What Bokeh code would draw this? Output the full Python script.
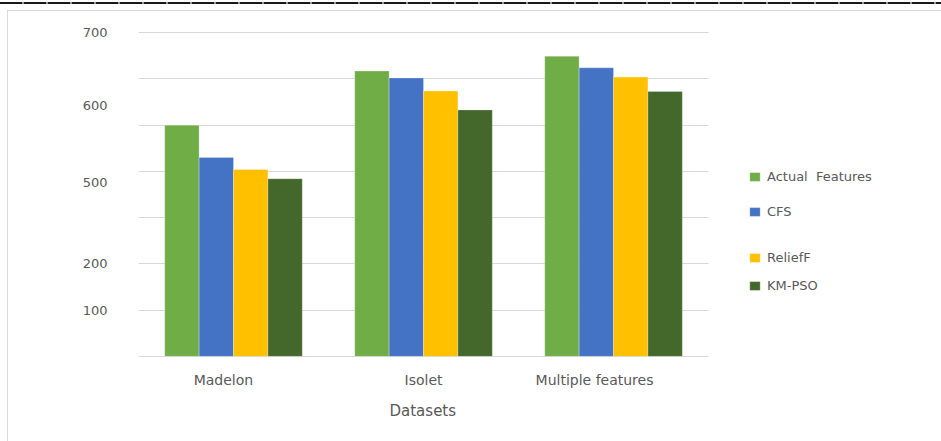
import numpy as np
from bokeh.plotting import figure
from bokeh.models import (ColumnDataSource, FixedTicker, Legend, LegendItem,
                          BoxAnnotation, Range1d, InlineStyleSheet, Title)
from bokeh.embed import file_html
from bokeh.resources import INLINE

# ---- data ----
datasets = ["Madelon", "Isolet", "Multiple features"]
actual_features = [500, 617, 649]
cfs = [430, 602, 624]
relieff = [404, 574, 604]
km_pso = [384, 533, 573]
series_names = ["Actual  Features", "CFS", "ReliefF", "KM-PSO"]
colors = ["#70AD47", "#4472C4", "#FFC000", "#44682C"]

# y tick labels as printed in the picture, and where they sit
y_tick_labels = ["100", "200", "500", "600", "700"]
y_tick_pos = [100, 200, 377, 543, 700]
grid_values = [0, 100, 200, 300, 400, 500, 600, 700]
# x label shifts (labels in the picture are not centred on their groups)
x_label_shift = [-0.053, 0.0, -0.1]
x_title = "Datasets"

FONT = "DejaVu Sans"
TXT = "#595959"

idx = np.arange(len(datasets), dtype=float)
bar_w = 0.181
offsets = [-1.5 * bar_w, -0.5 * bar_w, 0.5 * bar_w, 1.5 * bar_w]

# frame spans to the right edge so the legends can live inside it
p = figure(width=941, height=441, output_backend="svg", toolbar_location=None,
           min_border_left=138, min_border_right=0, min_border_top=31,
           min_border_bottom=84, x_range=Range1d(-0.5, 3.726),
           y_range=Range1d(-2.5, 702.5))
p.outline_line_color = None
p.background_fill_color = "white"
p.border_fill_color = "white"

# grid
p.xgrid.visible = False
p.ygrid.ticker = FixedTicker(ticks=grid_values)
p.ygrid.grid_line_color = "#d9d9d9"
p.ygrid.grid_line_width = 1.2

# hide gridlines right of the plotting area (they stop after the last group)
p.add_layout(BoxAnnotation(left=len(datasets) - 0.5, fill_color="white",
                           fill_alpha=1, line_color=None, level="underlay"))

renderers = []
for vals, off, col in zip([actual_features, cfs, relieff, km_pso], offsets, colors):
    src = ColumnDataSource(dict(x=idx + off, top=vals))
    r = p.vbar(x="x", top="top", bottom=0, width=bar_w, source=src,
               fill_color=col, line_color="white", line_alpha=0.35, line_width=0.8)
    renderers.append(r)

# y axis
p.yaxis.ticker = FixedTicker(ticks=y_tick_pos)
p.yaxis.major_label_overrides = {float(v): t for v, t in zip(y_tick_pos, y_tick_labels)}
p.yaxis.axis_line_color = None
p.yaxis.major_tick_line_color = None
p.yaxis.minor_tick_line_color = None
p.yaxis.major_label_standoff = 25
p.yaxis.major_label_text_font = FONT
p.yaxis.major_label_text_font_size = "13px"
p.yaxis.major_label_text_color = TXT

# x axis
xt = [float(i + s) for i, s in zip(idx, x_label_shift)]
p.xaxis.ticker = FixedTicker(ticks=xt)
p.xaxis.major_label_overrides = {v: n for v, n in zip(xt, datasets)}
p.xaxis.axis_line_color = None
p.xaxis.major_tick_line_color = None
p.xaxis.minor_tick_line_color = None
p.xaxis.major_label_standoff = 8
p.xaxis.major_label_text_font = FONT
p.xaxis.major_label_text_font_size = "14px"
p.xaxis.major_label_text_color = TXT

# axis title, centred under the bar groups (not under the wide frame)
p.add_layout(Title(text=x_title, align="left", offset=251, standoff=18,
                   text_font=FONT, text_font_size="15px", text_font_style="normal",
                   text_color=TXT), "below")

# legends (irregular spacing in the picture -> one legend per entry)
leg_pos = [(610, 173), (610, 138), (610, 92), (610, 64)]
for name, r, pos in zip(series_names, renderers, leg_pos):
    lg = Legend(items=[LegendItem(label=name, renderers=[r])], location=pos,
                padding=0, margin=0, spacing=0, border_line_color=None,
                background_fill_alpha=0, glyph_width=13, glyph_height=11,
                label_height=11, label_standoff=6, label_text_font=FONT,
                label_text_font_size="13px", label_text_color=TXT)
    p.add_layout(lg, "center")

# outer frame and top dashed rule, drawn with CSS on the figure's host
p.stylesheets = [InlineStyleSheet(css="""
:host::before { content: ""; position: absolute; left: 0; top: 2px;
  width: 941px; height: 2px; z-index: 10; pointer-events: none;
  background: repeating-linear-gradient(to right, #1a1a1a 0 22px, #9a9a9a 22px 24px); }
:host::after { content: ""; position: absolute; left: 7px; top: 10px;
  width: 960px; height: 460px; z-index: 10; pointer-events: none;
  border-left: 1.5px solid #d9d9d9; border-top: 1.5px solid #d9d9d9; }
""")]

open("out.html", "w").write(file_html(p, INLINE))
